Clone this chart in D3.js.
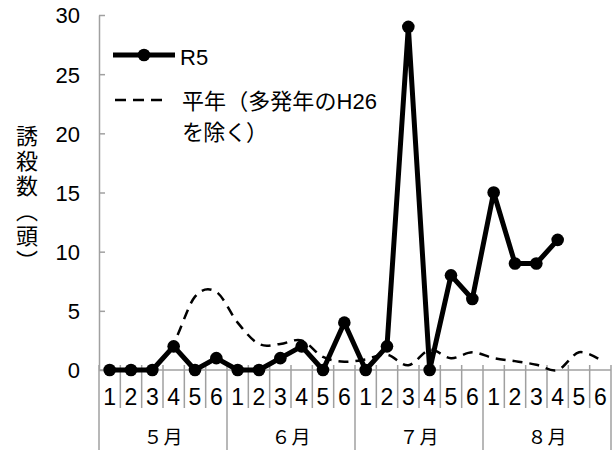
<!DOCTYPE html>
<html>
<head>
<meta charset="utf-8">
<title>誘殺数</title>
<script src="https://cdn.jsdelivr.net/npm/d3@7"></script>
<style>
    body { margin: 0; background: #fff; }
    svg { display: block; }
    .num { font-family: "Liberation Sans", Arial, sans-serif; fill: #000; }
    .jp { font-family: "Noto Sans CJK JP", sans-serif; fill: #000; }
    .axis path, .axis line { stroke: #a0a0a0; stroke-width: 1.5; }
</style>
</head>
<body>
<script>
// 旬ごとの誘殺数
var months = ["５月", "６月", "７月", "８月"];
var periods = ["1", "2", "3", "4", "5", "6"];
var r5 = [0, 0, 0, 2, 0, 1,
          0, 0, 1, 2, 0, 4,
          0, 2, 29, 0, 8, 6,
          15, 9, 9, 11, null, null];
var heinen = [0, 0, 0.2, 2.3, 6.2, 6.6,
              4.0, 2.2, 2.2, 2.5, 1.1, 0.7,
              0.9, 1.3, 0.4, 1.7, 1.0, 1.5,
              1.0, 0.75, 0.45, 0, 1.5, 0.85];
var yTicks = [0, 5, 10, 15, 20, 25, 30];

var width = 613, height = 450;
var margin = {top: 15, left: 99, right: 2, bottom: 80};

var cats = [];
months.forEach(function (m, mi) {
    periods.forEach(function (p) { cats.push({month: mi, label: p}); });
});

var svg = d3.select("body").append("svg")
        .attr("width", width)
        .attr("height", height);

var x = d3.scaleBand()
        .domain(d3.range(cats.length))
        .range([margin.left, width - margin.right]);

var y = d3.scaleLinear()
        .domain([0, 30])
        .range([height - margin.bottom, margin.top]);

var y0 = y(0);

// y axis, ticks pointing inward
svg.append("g")
        .attr("class", "axis")
        .attr("transform", "translate(" + margin.left + ",0)")
        .call(d3.axisLeft(y).tickValues(yTicks).tickSizeInner(-6).tickSizeOuter(0).tickPadding(19))
        .call(function (g) {
            g.selectAll("text").attr("class", "num").style("font-size", "22px").attr("dy", "0.36em");
        });

// x axis line and category separators
var xg = svg.append("g").attr("class", "axis");

xg.append("line")
        .attr("x1", margin.left).attr("x2", width - margin.right)
        .attr("y1", y0).attr("y2", y0);

var bounds = d3.range(cats.length + 1);
xg.selectAll("line.sep")
        .data(bounds)
        .enter().append("line")
        .attr("class", "sep")
        .attr("x1", function (i) { return i < cats.length ? x(i) : x.range()[1]; })
        .attr("x2", function (i) { return i < cats.length ? x(i) : x.range()[1]; })
        .attr("y1", y0 - 5)
        .attr("y2", function (i) { return i % periods.length === 0 ? height : y0 + 38; });

svg.selectAll("text.period")
        .data(cats)
        .enter().append("text")
        .attr("class", "num period")
        .attr("x", function (d, i) { return x(i) + x.bandwidth() / 2; })
        .attr("y", y0 + 35)
        .attr("text-anchor", "middle")
        .style("font-size", "23px")
        .text(function (d) { return d.label; });

svg.selectAll("text.month")
        .data(months)
        .enter().append("text")
        .attr("class", "jp month")
        .attr("x", function (d, i) {
            return (x(i * periods.length) + x(i * periods.length + periods.length - 1) + x.bandwidth()) / 2;
        })
        .attr("y", 444)
        .attr("text-anchor", "middle")
        .attr("textLength", 39)
        .attr("lengthAdjust", "spacing")
        .style("font-size", "19px")
        .text(function (d) { return d; });

// y title
svg.append("text")
        .attr("class", "jp")
        .attr("x", 27)
        .attr("y", 125)
        .style("writing-mode", "vertical-rl")
        .style("letter-spacing", "3px")
        .style("font-size", "22px")
        .text("誘殺数（頭）");

// 平年 (smoothed, dashed)
var cx = function (d, i) { return x(i) + x.bandwidth() / 2; };

svg.append("path")
        .datum(heinen)
        .attr("fill", "none")
        .attr("stroke", "#000")
        .attr("stroke-width", 2.5)
        .attr("stroke-dasharray", "10,7")
        .attr("d", d3.line().x(cx).y(function (d) { return y(d); }).curve(d3.curveCatmullRom.alpha(0)));

// R5
svg.append("path")
        .datum(r5)
        .attr("fill", "none")
        .attr("stroke", "#000")
        .attr("stroke-width", 5)
        .attr("stroke-linejoin", "round")
        .attr("d", d3.line().defined(function (d) { return d != null; }).x(cx).y(function (d) { return y(d); }));

svg.selectAll("circle.r5")
        .data(r5.map(function (v, i) { return {v: v, i: i}; }).filter(function (d) { return d.v != null; }))
        .enter().append("circle")
        .attr("class", "r5")
        .attr("cx", function (d) { return cx(d, d.i); })
        .attr("cy", function (d) { return y(d.v); })
        .attr("r", 6.3)
        .attr("fill", "#000");

// legend
var lg = svg.append("g").attr("class", "legend");

lg.append("line")
        .attr("x1", 113).attr("x2", 175).attr("y1", 55).attr("y2", 55)
        .attr("stroke", "#000").attr("stroke-width", 5);
lg.append("circle").attr("cx", 144).attr("cy", 55).attr("r", 6.3).attr("fill", "#000");
lg.append("text").attr("class", "num").attr("x", 180).attr("y", 65)
        .style("font-size", "22px").text("R5");

lg.append("line")
        .attr("x1", 115).attr("x2", 163).attr("y1", 100).attr("y2", 100)
        .attr("stroke", "#000").attr("stroke-width", 2.5).attr("stroke-dasharray", "11,7");
var lt = lg.append("text").attr("class", "jp").attr("x", 182).attr("y", 109)
        .attr("textLength", 195).attr("lengthAdjust", "spacing")
        .style("font-size", "22px");
lt.append("tspan").text("平年（多発年の");
lt.append("tspan").attr("class", "num").style("font-size", "22px").text("H26");
lg.append("text").attr("class", "jp").attr("x", 182).attr("y", 140)
        .attr("textLength", 86).attr("lengthAdjust", "spacing")
        .style("font-size", "22px").text("を除く）");
</script>
</body>
</html>
